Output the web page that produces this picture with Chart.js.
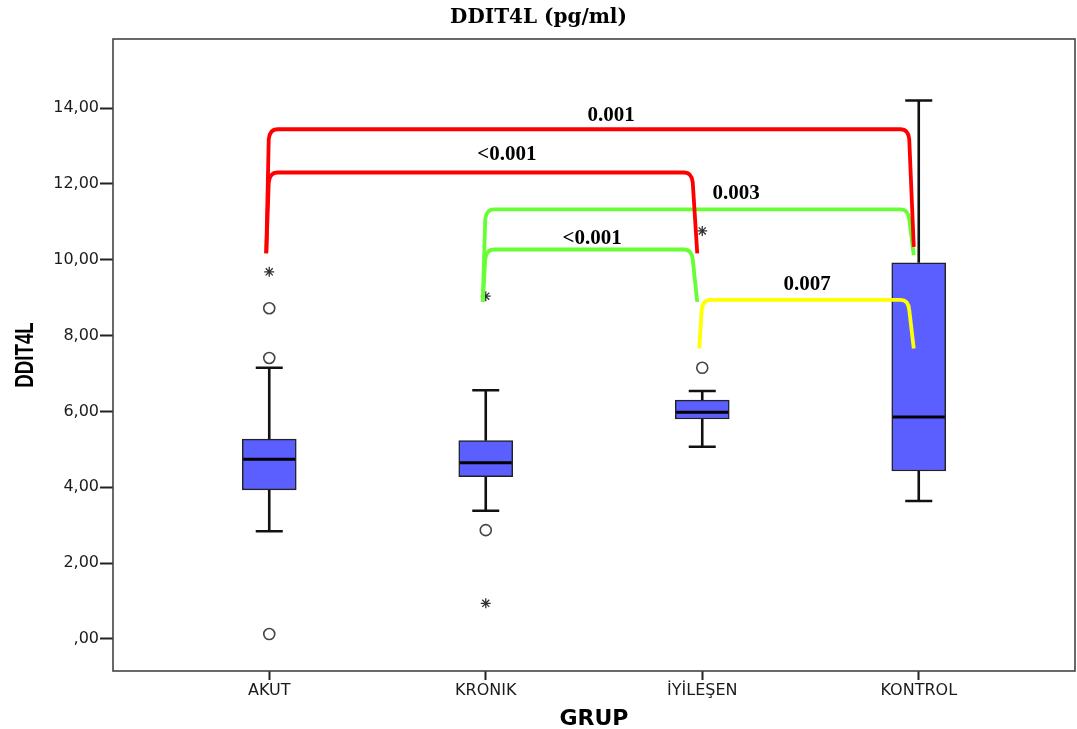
<!DOCTYPE html>
<html>
<head>
<meta charset="utf-8">
<title>DDIT4L (pg/ml)</title>
<script src="https://cdn.jsdelivr.net/npm/chart.js@4.4.1/dist/chart.umd.min.js"></script>
<style>
    body { margin: 0; background: #fff; }
</style>
</head>
<body>
<canvas id="box-chart" width="1077" height="729"></canvas>
<script>
// Groups on the x axis
const groups = ['AKUT', 'KRONIK', 'İYİLEŞEN', 'KONTROL'];

// Box plot summary per group
const whiskerLow  = [2.84, 3.38, 5.07, 3.64];
const q1          = [3.93, 4.28, 5.80, 4.43];
const median      = [4.74, 4.65, 5.98, 5.85];
const q3          = [5.27, 5.23, 6.30, 9.92];
const whiskerHigh = [7.15, 6.56, 6.54, 14.20];

// Outliers as [group index, value]
const outlierCircles = [[0, 8.72], [0, 7.41], [0, 0.13], [1, 2.87], [2, 7.15]];
const outlierStars   = [[0, 9.68], [1, 9.04], [1, 0.94], [2, 10.76]];

// Y axis ticks
const yTicks = [0, 2, 4, 6, 8, 10, 12, 14];

// Pairwise comparisons (brackets)
const pairFrom     = [0, 0, 1, 1, 2];
const pairTo       = [3, 2, 3, 2, 3];
const pairTop      = [13.44, 12.30, 11.33, 10.27, 8.94];
const pairLeftEnd  = [10.17, 10.17, 8.89, 8.89, 7.66];
const pairRightEnd = [10.34, 10.17, 10.12, 8.89, 7.66];
const pairLabels   = ['0.001', '<0.001', '0.003', '<0.001', '0.007'];
const pairLabelX   = [1.579, 1.098, 2.156, 1.491, 2.484];
const pairLabelY   = [13.85, 12.81, 11.78, 10.60, 9.39];

const pairColors = ['#ff0000', '#ff0000', '#66ff33', '#66ff33', '#ffff00'];
const drawOrder = [2, 3, 4, 0, 1];
const boxWidth = 54;

function fmtTick(v) {
    if (v === 0) return ',00';
    return v.toFixed(2).replace('.', ',');
}

/* whiskers behind the boxes, plot frame */
const whiskerPlugin = {
    id: 'whiskers',
    beforeDatasetsDraw(chart) {
        const ctx = chart.ctx, x = chart.scales.x, y = chart.scales.y;
        const a = chart.chartArea;
        ctx.save();
        ctx.strokeStyle = '#444';
        ctx.lineWidth = 1.6;
        ctx.strokeRect(a.left, a.top, a.right - a.left, a.bottom - a.top);
        ctx.strokeStyle = '#111';
        ctx.lineWidth = 2.6;
        for (let i = 0; i < groups.length; i++) {
            const cx = x.getPixelForValue(i);
            ctx.beginPath();
            ctx.moveTo(cx, y.getPixelForValue(q3[i]));
            ctx.lineTo(cx, y.getPixelForValue(whiskerHigh[i]));
            ctx.moveTo(cx - boxWidth / 4, y.getPixelForValue(whiskerHigh[i]));
            ctx.lineTo(cx + boxWidth / 4, y.getPixelForValue(whiskerHigh[i]));
            ctx.moveTo(cx, y.getPixelForValue(q1[i]));
            ctx.lineTo(cx, y.getPixelForValue(whiskerLow[i]));
            ctx.moveTo(cx - boxWidth / 4, y.getPixelForValue(whiskerLow[i]));
            ctx.lineTo(cx + boxWidth / 4, y.getPixelForValue(whiskerLow[i]));
            ctx.stroke();
        }
        ctx.restore();
    },
    afterDatasetsDraw(chart) {
        const ctx = chart.ctx, x = chart.scales.x, y = chart.scales.y;
        ctx.save();
        // medians
        ctx.strokeStyle = '#000';
        ctx.lineWidth = 3;
        for (let i = 0; i < groups.length; i++) {
            const cx = x.getPixelForValue(i);
            const my = y.getPixelForValue(median[i]);
            ctx.beginPath();
            ctx.moveTo(cx - boxWidth / 2 + 1, my);
            ctx.lineTo(cx + boxWidth / 2 - 1, my);
            ctx.stroke();
        }
        // brackets with p values
        ctx.lineWidth = 3.8;
        ctx.lineJoin = 'round';
        drawOrder.forEach(k => {
            const xl = x.getPixelForValue(pairFrom[k]) - 3;
            const xr = x.getPixelForValue(pairTo[k]) - 5;
            const yt = y.getPixelForValue(pairTop[k]);
            ctx.strokeStyle = pairColors[k];
            ctx.beginPath();
            ctx.moveTo(xl, y.getPixelForValue(pairLeftEnd[k]));
            ctx.lineTo(xl + 2.5, yt + 10);
            ctx.quadraticCurveTo(xl + 3.5, yt, xl + 11, yt);
            ctx.lineTo(xr - 13, yt);
            ctx.quadraticCurveTo(xr - 5.5, yt, xr - 4.5, yt + 10);
            ctx.lineTo(xr, y.getPixelForValue(pairRightEnd[k]));
            ctx.stroke();
        });
        ctx.fillStyle = '#000';
        ctx.font = 'bold 21px "Liberation Serif", "Times New Roman", serif';
        ctx.textAlign = 'center';
        ctx.textBaseline = 'alphabetic';
        drawOrder.forEach(k => {
            ctx.fillText(pairLabels[k], x.getPixelForValue(pairLabelX[k]),
                y.getPixelForValue(pairLabelY[k]) + 7);
        });
        ctx.restore();
    },
    afterDraw(chart) {
        const ctx = chart.ctx, a = chart.chartArea;
        ctx.save();
        ctx.fillStyle = '#000';
        ctx.textAlign = 'center';
        ctx.textBaseline = 'alphabetic';
        ctx.font = 'bold 20px "DejaVu Serif", serif';
        ctx.fillText('DDIT4L (pg/ml)', chart.width / 2, 23);
        ctx.font = 'bold 22px "DejaVu Sans", sans-serif';
        ctx.fillText('GRUP', (a.left + a.right) / 2, 725);
        // narrow, rotated y title
        ctx.translate(23, (a.top + a.bottom) / 2);
        ctx.rotate(-Math.PI / 2);
        ctx.scale(0.72, 1);
        ctx.font = 'bold 26px "Liberation Sans", Arial, sans-serif';
        ctx.fillText('DDIT4L', 0, 9.5);
        ctx.restore();
    }
};

let boxChart = new Chart('box-chart', {
    type: 'bar',
    data: {
        datasets: [
            {
                type: 'scatter',
                data: outlierCircles.map(o => ({x: o[0], y: o[1]})),
                pointStyle: 'circle',
                radius: 5.5,
                borderWidth: 1.6,
                borderColor: '#444',
                backgroundColor: '#fff'
            },
            {
                type: 'scatter',
                data: outlierStars.map(o => ({x: o[0], y: o[1]})),
                pointStyle: 'star',
                radius: 5,
                borderWidth: 1.3,
                borderColor: '#333'
            },
            {
                data: groups.map((g, i) => ({x: i, y: [q1[i], q3[i]]})),
                backgroundColor: '#5b5fff',
                borderColor: '#222',
                borderWidth: 1.5,
                borderSkipped: false,
                barThickness: boxWidth
            }
        ]
    },
    options: {
        responsive: false,
        animation: false,
        layout: { autoPadding: false, padding: { top: 39, right: 2, left: 0, bottom: 0 } },
        plugins: {
            legend: false,
            tooltip: { enabled: false },
            title: { display: false }
        },
        scales: {
            x: {
                type: 'linear',
                min: -0.7217,
                max: 3.7217,
                offset: false,
                afterBuildTicks: s => { s.ticks = groups.map((g, i) => ({value: i})); },
                afterFit: s => {
                    s.height = 58;
                    s.paddingLeft = 0;
                    s.paddingRight = 0;
                },
                ticks: {
                    callback: v => groups[Math.round(v)],
                    font: { family: 'DejaVu Sans', size: 16 },
                    color: '#1a1a1a',
                    padding: 1,
                    maxRotation: 0
                },
                grid: {
                    offset: false,
                    drawOnChartArea: false,
                    drawTicks: true,
                    tickLength: 9,
                    tickWidth: 2,
                    tickColor: '#222'
                },
                border: { display: false }
            },
            y: {
                min: -0.844,
                max: 15.82,
                afterBuildTicks: s => { s.ticks = yTicks.map(v => ({value: v})); },
                afterFit: s => {
                    s.width = 113;
                    s.paddingTop = 0;
                    s.paddingBottom = 0;
                },
                ticks: {
                    callback: v => fmtTick(v),
                    font: { family: 'DejaVu Sans', size: 16 },
                    color: '#1a1a1a',
                    padding: 1
                },
                grid: {
                    drawOnChartArea: false,
                    drawTicks: true,
                    tickLength: 13,
                    tickWidth: 2,
                    tickColor: '#222'
                },
                border: { display: false }
            }
        }
    },
    plugins: [whiskerPlugin]
});
</script>
</body>
</html>
